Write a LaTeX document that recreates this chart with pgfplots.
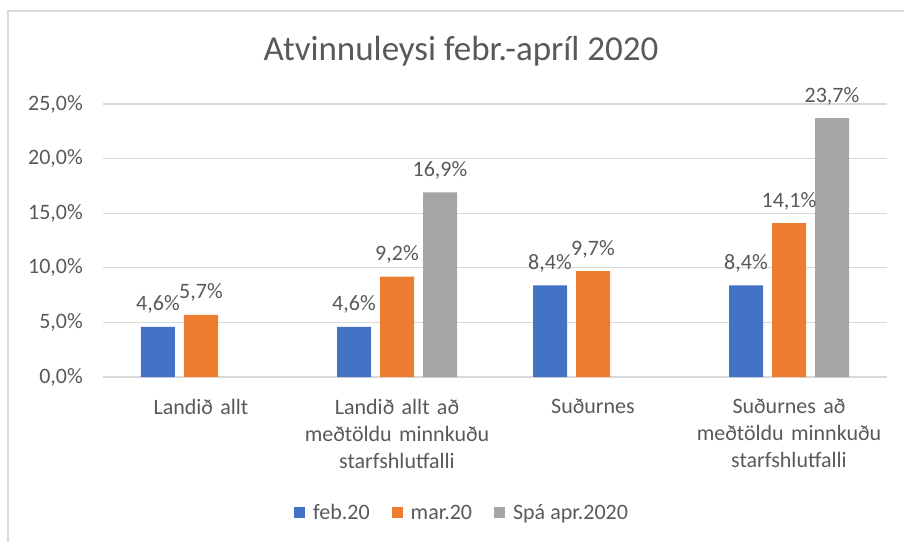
\documentclass[border=0pt]{standalone}
\usepackage{pgfplots}
\pgfplotsset{compat=1.18}
\usepackage{fontspec}
\setmainfont{Carlito}
\definecolor{cblue}{HTML}{4472C4}
\definecolor{corange}{HTML}{ED7D31}
\definecolor{cgray}{HTML}{A5A5A5}
\definecolor{ctext}{HTML}{595959}
\definecolor{cgrid}{HTML}{D9D9D9}
\begin{document}
\begin{tikzpicture}[x=1pt,y=1pt]
\useasboundingbox (-103,-165) rectangle (801,377);
\draw[color=cgrid, line width=1.5pt] (-95,-165) -- (-95,366) -- (801,366);
\node[text=ctext, font=\fontsize{35}{42}\selectfont] at (358,326) {Atvinnuleysi febr.-apríl 2020};
\begin{axis}[
  at={(0pt,0pt)}, anchor=south west,
  width=784pt, height=273pt, scale only axis,
  ybar=9pt, bar width=34pt,
  xmin=-0.5, xmax=3.5, ymin=0, ymax=25,
  xtick={0,1,2,3},
  xticklabels={{Landið allt},{Landið allt að\\meðtöldu minnkuðu\\starfshlutfalli},{Suðurnes},{Suðurnes að\\meðtöldu minnkuðu\\starfshlutfalli}},
  ytick={0,5,10,15,20,25},
  ymajorgrids, grid style={cgrid, line width=1.2pt},
  axis line style={draw=none},
  major tick length=0pt,
  /pgf/number format/assume math mode=true,
  tick label style={text=ctext, font=\fontsize{22}{27}\selectfont},
  yticklabel={\pgfmathprintnumber[fixed,fixed zerofill,precision=1,use comma]{\tick}\%},
  yticklabel style={anchor=east, inner sep=0pt, xshift=-20pt},
  xticklabel style={anchor=north, inner sep=0pt, yshift=-22pt, align=center, text width=200pt},
  nodes near coords={\pgfmathprintnumber[fixed,fixed zerofill,precision=1,use comma]{\pgfplotspointmeta}\%},
  nodes near coords style={text=ctext, font=\fontsize{22}{27}\selectfont, anchor=south, inner sep=0pt, yshift=13pt},
  legend columns=3,
  legend style={at={(0.458,-0.498)}, anchor=center, draw=none, fill=none, text=ctext, font=\fontsize{22}{27}\selectfont,
    /tikz/every odd column/.append style={column sep=6pt},
    /tikz/every even column/.append style={column sep=20pt}},
  legend image code/.code={\fill[#1] (0pt,-5.5pt) rectangle (11pt,5.5pt);},
]
\addplot[fill=cblue, draw=none] coordinates {(0,4.6) (1,4.6) (2,8.4) (3,8.4)};
\addplot[fill=corange, draw=none] coordinates {(0,5.7) (1,9.2) (2,9.7) (3,14.1)};
\addplot[fill=cgray, draw=none] coordinates {(1,16.9) (3,23.7)};
\legend{feb.20, mar.20, Spá apr.2020}
\end{axis}
\end{tikzpicture}
\end{document}
